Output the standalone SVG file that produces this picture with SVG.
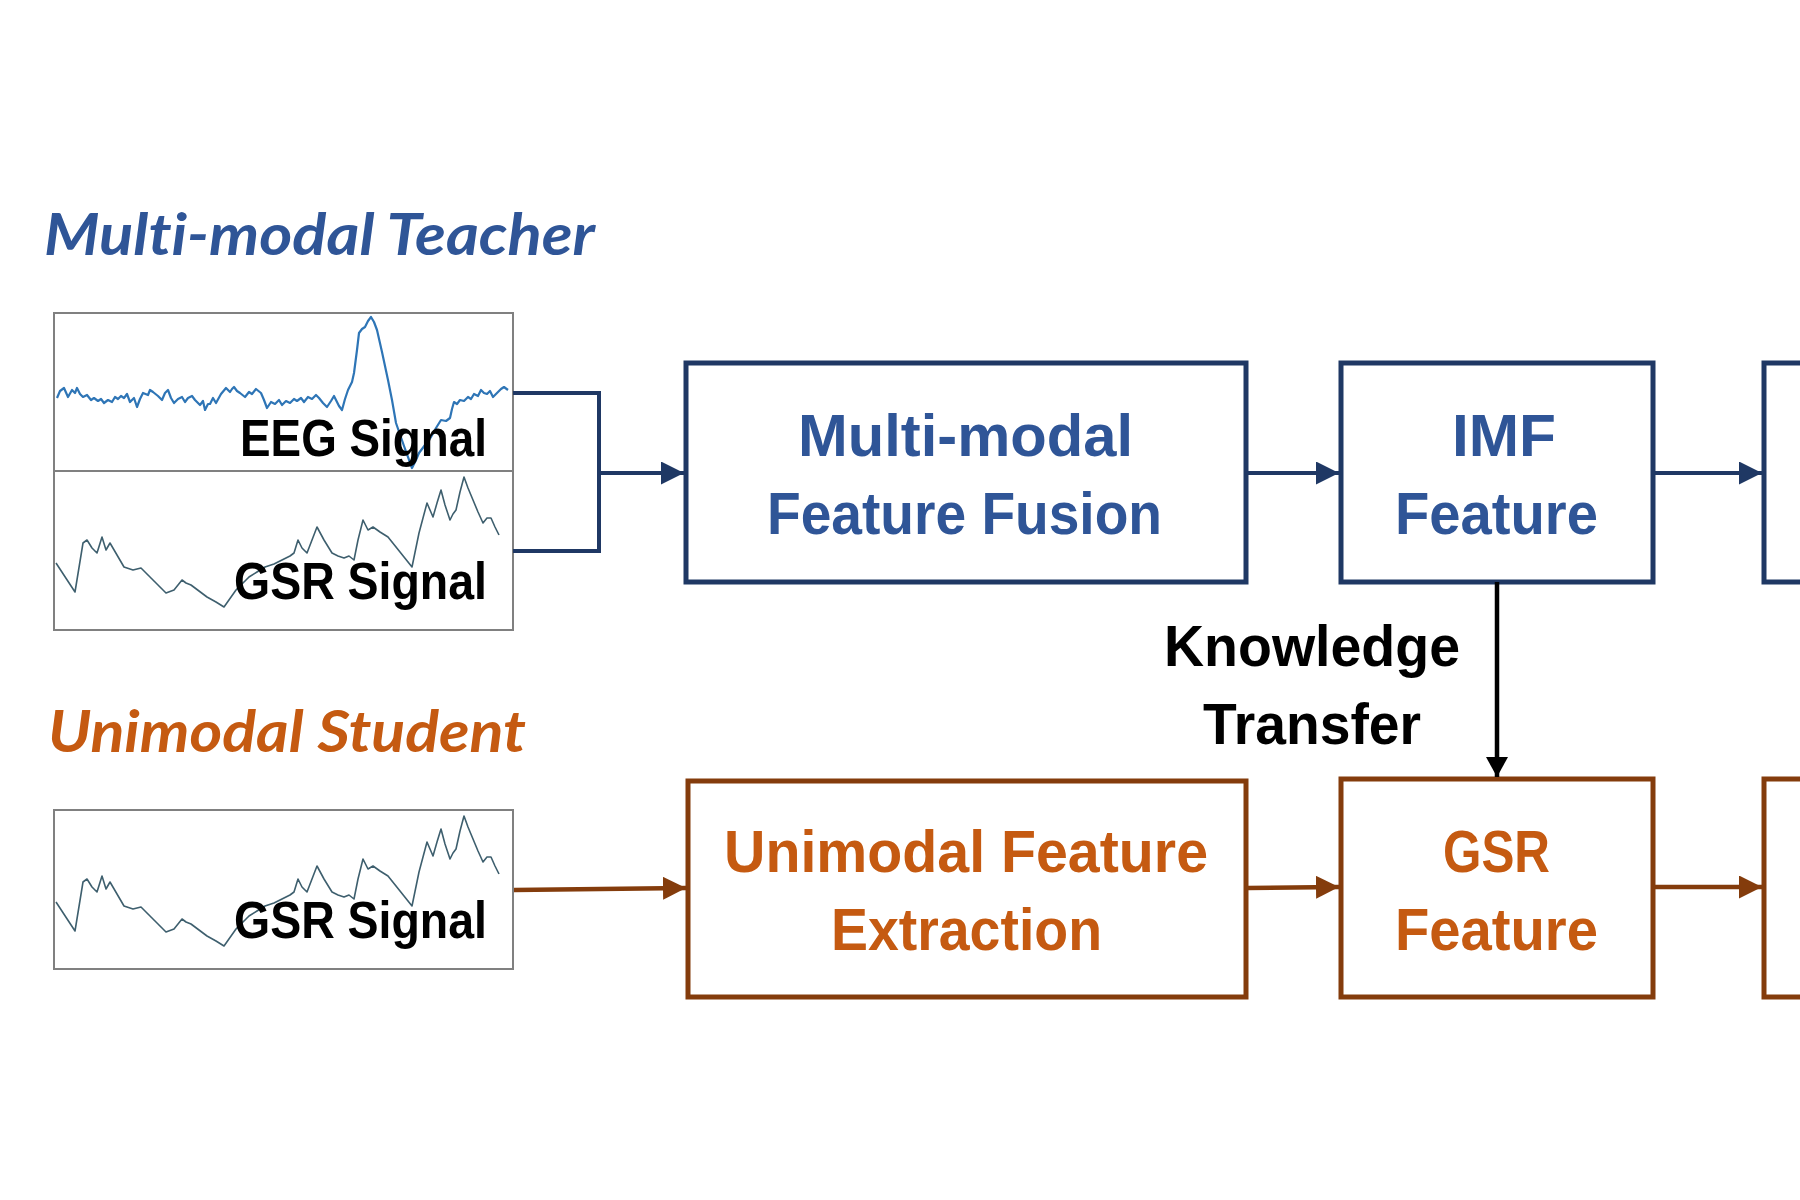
<svg xmlns="http://www.w3.org/2000/svg" xmlns:xlink="http://www.w3.org/1999/xlink" width="1800" height="1200" viewBox="0 0 1800 1200">
  <style>
    .title { font-family: Lato, "Noto Sans", sans-serif; font-weight: bold; font-style: italic; font-size: 58px; font-variant-ligatures: none; }
    .blue-t { fill: #2F5597; }
    .orange-t { fill: #C55A11; }
    .box-t { font-family: "Liberation Sans", Arial, sans-serif; font-weight: bold; font-size: 60px; }
    .sig-t { font-family: "Liberation Sans", Arial, sans-serif; font-weight: bold; font-size: 52px; fill: #000000; }
    .kt { font-family: "Liberation Sans", Arial, sans-serif; font-weight: bold; font-size: 58px; fill: #000000; }
    .blue-box { fill: #FFFFFF; stroke: #1F3864; stroke-width: 5; }
    .orange-box { fill: #FFFFFF; stroke: #843C0C; stroke-width: 5; }
    .sig-box { fill: #FFFFFF; stroke: #808080; stroke-width: 2; }
    .eeg { fill: none; stroke: #2E75B6; stroke-width: 2.2; stroke-linejoin: round; }
    .gsr { fill: none; stroke: #3E5F6E; stroke-width: 1.6; stroke-linejoin: round; }
    .c-blue { fill: none; stroke: #1F3864; stroke-width: 4; }
    .c-brown { fill: none; stroke: #843C0C; stroke-width: 4.5; }
    .c-black { fill: none; stroke: #000000; stroke-width: 4.5; }
  </style>
  <defs>
    <marker id="ah-blue" markerUnits="userSpaceOnUse" markerWidth="23" markerHeight="23" refX="23" refY="11.5" orient="auto">
      <path d="M0,0 L23,11.5 L0,23 Z" fill="#1F3864"/>
    </marker>
    <marker id="ah-brown" markerUnits="userSpaceOnUse" markerWidth="23" markerHeight="23" refX="23" refY="11.5" orient="auto">
      <path d="M0,0 L23,11.5 L0,23 Z" fill="#843C0C"/>
    </marker>
    <marker id="ah-black" markerUnits="userSpaceOnUse" markerWidth="20" markerHeight="22" refX="20" refY="11" orient="auto">
      <path d="M0,0 L20,11 L0,22 Z" fill="#000000"/>
    </marker>
    <polyline id="gsr-wave" class="gsr" points="56,563 75,592 83,543 87,540 92,548 97,553 102,537 106,550 110,543 117,555 124,567 133,570 141,568 153,580 166,593 174,590 182,580 186,583 191,585 199,591 207,597 216,602 224,607 236,590 249,577 257,572 265,567 274,564 282,560 290,556 294,553 298,540 302,548 307,553 312,540 317,527 324,540 332,553 338,556 344,558 349,556 354,560 358,540 363,520 368,530 373,527 380,532 388,537 400,552 412,567 419,533 423,518 427,503 430,510 433,517 437,503 441,490 445,505 450,520 453,514 456,510 460,492 464,477 468,488 473,500 478,512 483,523 487,518 491,518 495,527 499,535"/>
  </defs>

  <rect width="1800" height="1200" fill="#FFFFFF"/>

  <g id="title-teacher">
    <text class="title blue-t" x="44" y="255" textLength="551" lengthAdjust="spacingAndGlyphs">Multi-modal Teacher</text>
  </g>

  <g id="title-student">
    <text class="title orange-t" x="48" y="752" textLength="478" lengthAdjust="spacingAndGlyphs">Unimodal Student</text>
  </g>

  <g id="teacher-signals">
    <rect class="sig-box" x="54" y="313" width="459" height="158"/>
    <rect class="sig-box" x="54" y="471" width="459" height="159"/>
    <polyline class="eeg" points="57,398 60,391 64,388 68,397 72,390 75,393 77,388 80,394 83,397 87,395 91,400 94,398 98,401 101,399 104,403 108,400 112,402 115,397 118,399 121,396 124,398 127,394 130,402 134,398 137,407 140,399 143,393 148,395 150,390 153,392 158,396 162,400 165,393 168,390 171,398 174,403 178,399 182,397 185,402 188,398 192,396 195,400 200,405 203,401 205,410 208,404 210,404 213,398 216,403 221,394 226,388 230,392 232,389 234,387 237,391 240,393 245,397 249,392 252,394 256,389 261,393 264,400 267,408 271,402 275,404 279,400 282,405 286,401 290,403 294,399 297,401 301,398 304,402 308,397 312,399 316,395 319,398 323,403 327,407 331,401 334,396 336,400 339,406 342,410 345,399 348,390 352,382 354,373 357,350 359,333 362,329 365,327 368,321 371,317 374,322 377,330 382,352 388,380 392,400 396,423 404,446 412,468 416,460 419,453 425,445 431,437 436,428 441,420 446,421 450,418 452,409 454,402 457,404 460,400 464,401 468,397 471,399 474,394 478,396 481,390 484,393 487,394 490,391 493,397 496,394 498,392 501,389 504,387 508,390"/>
    <use xlink:href="#gsr-wave"/>
    <text class="sig-t" x="240" y="456" textLength="247" lengthAdjust="spacingAndGlyphs">EEG Signal</text>
    <text class="sig-t" x="234" y="599" textLength="253" lengthAdjust="spacingAndGlyphs">GSR Signal</text>
  </g>

  <g id="student-signal">
    <rect class="sig-box" x="54" y="810" width="459" height="159"/>
    <use xlink:href="#gsr-wave" transform="translate(0,339)"/>
    <text class="sig-t" x="234" y="938" textLength="253" lengthAdjust="spacingAndGlyphs">GSR Signal</text>
  </g>

  <g id="node-fusion">
    <rect class="blue-box" x="686" y="363" width="560" height="219"/>
    <text class="box-t blue-t" x="798" y="456" textLength="335" lengthAdjust="spacingAndGlyphs">Multi-modal</text>
    <text class="box-t blue-t" x="767" y="534" textLength="395" lengthAdjust="spacingAndGlyphs">Feature Fusion</text>
  </g>

  <g id="node-imf">
    <rect class="blue-box" x="1341" y="363" width="312" height="219"/>
    <text class="box-t blue-t" x="1452" y="456" textLength="104" lengthAdjust="spacingAndGlyphs">IMF</text>
    <text class="box-t blue-t" x="1395" y="534" textLength="203" lengthAdjust="spacingAndGlyphs">Feature</text>
  </g>

  <g id="node-teacher-next">
    <rect class="blue-box" x="1764" y="363" width="100" height="219"/>
  </g>

  <g id="node-extraction">
    <rect class="orange-box" x="688" y="781" width="558" height="216"/>
    <text class="box-t orange-t" x="724" y="872" textLength="484" lengthAdjust="spacingAndGlyphs">Unimodal Feature</text>
    <text class="box-t orange-t" x="831" y="950" textLength="271" lengthAdjust="spacingAndGlyphs">Extraction</text>
  </g>

  <g id="node-gsr">
    <rect class="orange-box" x="1341" y="779" width="312" height="218"/>
    <text class="box-t orange-t" x="1443" y="872" textLength="107" lengthAdjust="spacingAndGlyphs">GSR</text>
    <text class="box-t orange-t" x="1395" y="950" textLength="203" lengthAdjust="spacingAndGlyphs">Feature</text>
  </g>

  <g id="node-student-next">
    <rect class="orange-box" x="1764" y="779" width="100" height="218"/>
  </g>

  <g id="label-knowledge">
    <text class="kt" x="1164" y="666" textLength="296" lengthAdjust="spacingAndGlyphs">Knowledge</text>
    <text class="kt" x="1203" y="744" textLength="218" lengthAdjust="spacingAndGlyphs">Transfer</text>
  </g>

  <g id="connectors">
    <polyline class="c-blue" points="513,393 599,393 599,551 513,551"/>
    <line class="c-blue" x1="599" y1="473" x2="684" y2="473" marker-end="url(#ah-blue)"/>
    <line class="c-blue" x1="1248" y1="473" x2="1339" y2="473" marker-end="url(#ah-blue)"/>
    <line class="c-blue" x1="1655" y1="473" x2="1762" y2="473" marker-end="url(#ah-blue)"/>
    <line class="c-brown" x1="514" y1="890" x2="686" y2="888" marker-end="url(#ah-brown)"/>
    <line class="c-brown" x1="1248" y1="888" x2="1339" y2="887" marker-end="url(#ah-brown)"/>
    <line class="c-brown" x1="1655" y1="887" x2="1762" y2="887" marker-end="url(#ah-brown)"/>
    <line class="c-black" x1="1497" y1="582" x2="1497" y2="777" marker-end="url(#ah-black)"/>
  </g>
</svg>
